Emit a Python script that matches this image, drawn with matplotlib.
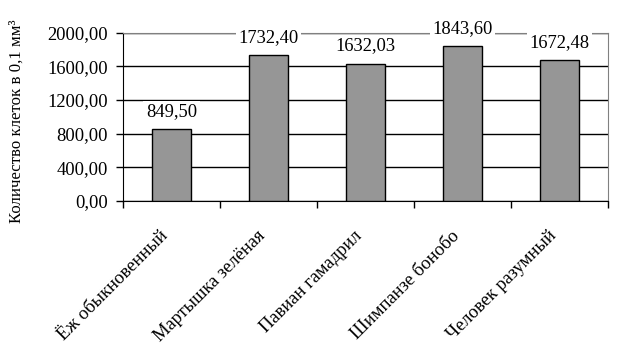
import matplotlib; matplotlib.use('Agg')
import matplotlib.pyplot as plt
plt.rcParams['font.family'] = ['Liberation Serif', 'DejaVu Serif']

species = ['Ёж обыкновенный', 'Мартышка зелёная', 'Павиан гамадрил', 'Шимпанзе бонобо', 'Человек разумный']
cells = [849.50, 1732.40, 1632.03, 1843.60, 1672.48]
yticks = [0, 400, 800, 1200, 1600, 2000]

fs = 13.3
fig = plt.figure(figsize=(6.24, 3.63), dpi=100)
ax = fig.add_axes([123/624, 1-201/363, (608-123)/624, (201-32.5)/363])
x = range(len(species))
ax.bar(x, cells, width=0.4, color='#969696', edgecolor='black', lw=1, zorder=3)
ax.set_xlim(-0.5, len(species)-0.5)
ax.set_ylim(0, 2000)
ax.set_yticks(yticks)
ax.set_yticklabels([f'{v:.2f}'.replace('.', ',') for v in yticks], fontsize=fs)
ax.yaxis.grid(True, color='black', lw=1, zorder=0)
ax.set_axisbelow(True)
ax.set_xticks([i - 0.5 for i in range(len(species)+1)])
ax.set_xticklabels([])
ax.set_xticks(list(x), minor=True)
ax.set_xticklabels(species, minor=True, rotation=45, ha='right', va='top', fontsize=fs)
ax.tick_params(axis='x', which='minor', length=0, pad=19)
ax.tick_params(axis='both', which='major', length=5, width=1, direction='out', color='black')
ax.tick_params(axis='y', pad=6)
for s in ['top', 'right']:
    ax.spines[s].set_color('#808080')
for s in ['left', 'bottom']:
    ax.spines[s].set_color('black')
for i, v in enumerate(cells):
    ax.text(i, v + 154, f'{v:.2f}'.replace('.', ','), ha='center', va='baseline', fontsize=fs,
            bbox=dict(fc='white', ec='none', pad=2), zorder=4)
fig.text(17/624, 1-121/363, 'Количество клеток в 0,1 мм³', rotation=90, ha='center', va='center', fontsize=12.1)
fig.savefig('out.png', dpi=100)
